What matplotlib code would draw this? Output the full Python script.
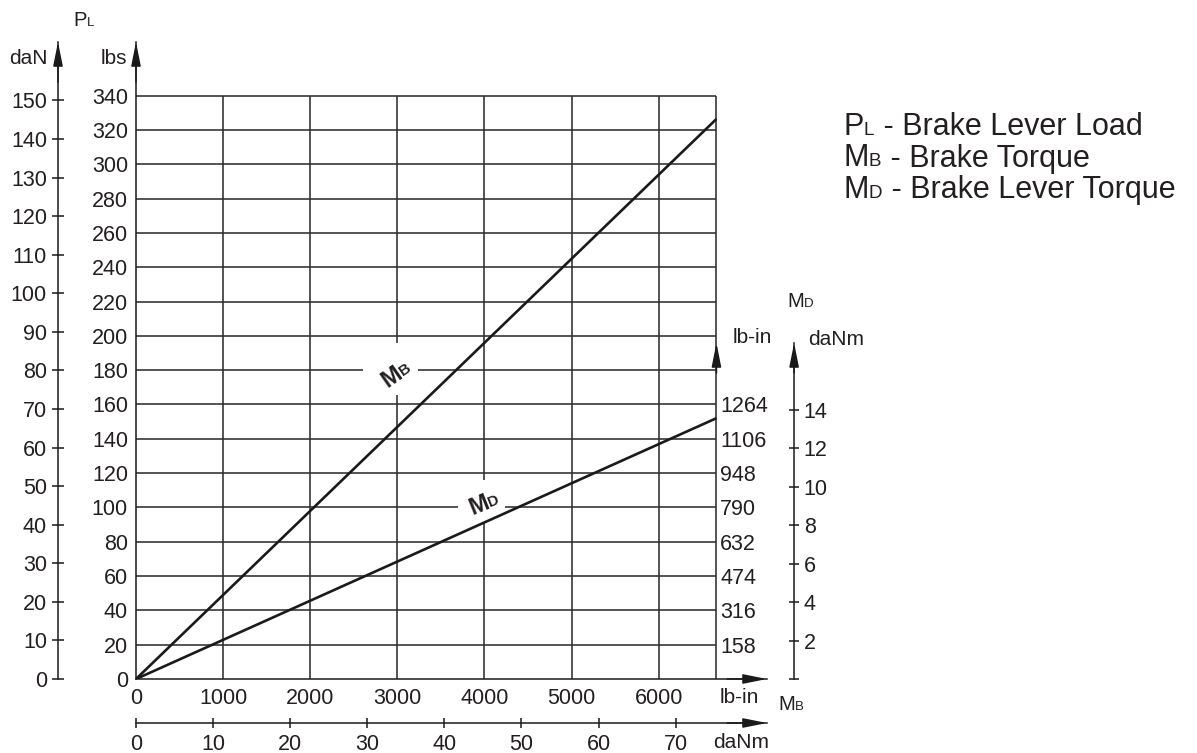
import numpy as np
import matplotlib
matplotlib.use("Agg")
import matplotlib.pyplot as plt
from matplotlib.patches import Rectangle

# ---------------- data ----------------
pl_lbs_ticks = [0, 20, 40, 60, 80, 100, 120, 140, 160, 180, 200, 220, 240, 260, 280, 300, 320, 340]
pl_dan_ticks = [0, 10, 20, 30, 40, 50, 60, 70, 80, 90, 100, 110, 120, 130, 140, 150]
mb_lbin_ticks = [0, 1000, 2000, 3000, 4000, 5000, 6000]
mb_danm_ticks = [0, 10, 20, 30, 40, 50, 60, 70]
md_lbin_ticks = [158, 316, 474, 632, 790, 948, 1106, 1264]
md_danm_ticks = [0, 2, 4, 6, 8, 10, 12, 14]

mb_danm = [0, 75.3]      # brake torque, daNm (chart right edge)
pl_dan = [0, 145.2]      # brake lever load along M_B line, daN
md_danm = [0, 13.57]     # brake lever torque along M_D line, daNm

legend_items = [("P", "L", " - Brake Lever Load"),
                ("M", "B", " - Brake Torque"),
                ("M", "D", " - Brake Lever Torque")]

# unit conversions
LBS_PER_DAN = 2.248
LBIN_PER_DANM = 88.5
LBIN_PER_LB_RIGHT = 7.9   # 158 lb-in per 20 lbs grid step

# ---------------- layout ----------------
W, H = 1197, 753
plt.rcParams['font.family'] = ['Liberation Sans', 'DejaVu Sans']
TXT = '#231f20'
GRID = '#2e2e2e'
LINE = '#1a1a1a'
TICK_FS = 15.5
UNIT_FS = 15
SUB_FS = 9.5

fig = plt.figure(figsize=(W / 100, H / 100), dpi=100)
fig.patch.set_facecolor('white')


def fx(px):
    return px / W


def fy(py):
    return 1 - py / H


X0, Y0 = 136, 679
X_TIP, Y_TIP = 767, 42
PX_PER_LBIN = 0.0871
PX_PER_LB = 1.7157
XMAX = (X_TIP - X0) / PX_PER_LBIN
YMAX = (Y0 - Y_TIP) / PX_PER_LB
X_RIGHT = mb_danm[-1] * LBIN_PER_DANM
GRID_TOP = pl_lbs_ticks[-1]
RIGHT_TIP_LBS = (Y0 - 343) / PX_PER_LB

arrow_kw = dict(arrowstyle='-|>,head_length=1.0,head_width=0.2', color=LINE,
                lw=1.1, shrinkA=0, shrinkB=0, mutation_scale=14.5, clip_on=False)

# main axes (lb-in vs lbs)
ax = fig.add_axes([fx(X0), fy(Y0), (X_TIP - X0) / W, (Y0 - Y_TIP) / H])
ax.set_xlim(0, XMAX)
ax.set_ylim(0, YMAX)
ax.patch.set_visible(False)
for s in ['top', 'right']:
    ax.spines[s].set_visible(False)
for s in ['left', 'bottom']:
    ax.spines[s].set_linewidth(1.1)
    ax.spines[s].set_color(LINE)
ax.set_yticks(pl_lbs_ticks, labels=[str(v) for v in pl_lbs_ticks])
ax.set_xticks(mb_lbin_ticks, labels=[str(v) for v in mb_lbin_ticks])
ax.tick_params(axis='y', length=0, labelsize=TICK_FS, labelcolor=TXT, pad=5.8)
ax.tick_params(axis='x', length=0, labelsize=TICK_FS, labelcolor=TXT, pad=6.2)

ax.hlines(pl_lbs_ticks[1:], 0, X_RIGHT, color=GRID, lw=1.15, zorder=1)
ax.vlines(mb_lbin_ticks[1:] + [X_RIGHT], 0, GRID_TOP, color=GRID, lw=1.15, zorder=1)

# curves
mb_x = np.array(mb_danm) * LBIN_PER_DANM
ax.plot(mb_x, np.array(pl_dan) * LBS_PER_DAN, color=LINE, lw=1.9, zorder=3,
        solid_capstyle='butt')
ax.plot(mb_x, np.array(md_danm) * LBIN_PER_DANM / LBIN_PER_LB_RIGHT, color=LINE,
        lw=1.9, zorder=3, solid_capstyle='butt')

# arrows on main axes
ax.annotate('', xy=(0, YMAX), xytext=(0, YMAX - 40 / PX_PER_LB), arrowprops=arrow_kw,
            annotation_clip=False)
ax.annotate('', xy=(XMAX, 0), xytext=(XMAX - 40 / PX_PER_LBIN, 0), arrowprops=arrow_kw,
            annotation_clip=False)
ax.annotate('', xy=(X_RIGHT, RIGHT_TIP_LBS), xytext=(X_RIGHT, RIGHT_TIP_LBS - 30 / PX_PER_LB),
            arrowprops=arrow_kw, annotation_clip=False)


# in-chart curve labels
def px2data(px, py):
    return (px - X0) / PX_PER_LBIN, (Y0 - py) / PX_PER_LB


def curve_label(box_c, box_wh, txt_c, big, small, angle, fs_big, fs_small):
    bx, by = px2data(*box_c)
    bw, bh = box_wh[0] / PX_PER_LBIN, box_wh[1] / PX_PER_LB
    ax.add_patch(Rectangle((bx - bw / 2, by - bh / 2), bw, bh, fc='white', ec='none', zorder=2))
    cx, cy = px2data(*txt_c)
    th = np.deg2rad(angle)
    c, s = np.cos(th), np.sin(th)
    w_big = 0.833 * fs_big
    w_small = 0.722 * fs_small
    w = w_big + w_small
    h = 0.716 * fs_big
    blx = -w / 2 * c + h / 2 * s
    bly = -w / 2 * s - h / 2 * c
    kw = dict(xycoords='data', textcoords='offset points', rotation=angle,
              rotation_mode='anchor', ha='left', va='baseline', color=TXT,
              fontweight='bold', zorder=4)
    ax.annotate(big, xy=(cx, cy), xytext=(blx, bly), fontsize=fs_big, **kw)
    ax.annotate(small, xy=(cx, cy), xytext=(blx + w_big * c, bly + w_big * s),
                fontsize=fs_small, **kw)


curve_label((390.5, 369), (55, 52), (395, 372), 'M', 'B', 35, 17, 11)
curve_label((481.5, 501), (47, 42), (483, 501), 'M', 'D', 22, 17, 11)

# daN axis
ax_dan = fig.add_axes([fx(58), fy(Y0), 1e-4, (Y0 - Y_TIP) / H])
ax_dan.set_ylim(0, YMAX / LBS_PER_DAN)
ax_dan.patch.set_visible(False)
for s in ['top', 'right', 'bottom']:
    ax_dan.spines[s].set_visible(False)
ax_dan.spines['left'].set_linewidth(1.1)
ax_dan.spines['left'].set_color(LINE)
ax_dan.set_xticks([])
ax_dan.set_yticks(pl_dan_ticks, labels=[str(v) for v in pl_dan_ticks])
ax_dan.tick_params(axis='y', direction='inout', length=8, width=1.1, color=LINE,
                   labelsize=TICK_FS, labelcolor=TXT, pad=4.0)
top_dan = YMAX / LBS_PER_DAN
ax_dan.annotate('', xy=(0, top_dan), xytext=(0, top_dan - 40 / PX_PER_LB / LBS_PER_DAN),
                xycoords=ax_dan.get_yaxis_transform(), arrowprops=arrow_kw,
                annotation_clip=False)

# bottom daNm axis
Y_DANM = 723
ax_danm = fig.add_axes([fx(X0), fy(Y_DANM), (X_TIP - X0) / W, 1e-4])
ax_danm.set_xlim(0, XMAX / LBIN_PER_DANM)
ax_danm.patch.set_visible(False)
for s in ['top', 'right', 'left']:
    ax_danm.spines[s].set_visible(False)
ax_danm.spines['bottom'].set_linewidth(1.1)
ax_danm.spines['bottom'].set_color(LINE)
ax_danm.set_yticks([])
ax_danm.set_xticks(mb_danm_ticks, labels=[str(v) for v in mb_danm_ticks])
ax_danm.tick_params(axis='x', direction='inout', length=7, width=1.1, color=LINE,
                    labelsize=TICK_FS, labelcolor=TXT, pad=4.2)
right_danm = XMAX / LBIN_PER_DANM
ax_danm.annotate('', xy=(right_danm, 0), xytext=(right_danm - 40 / PX_PER_LBIN / LBIN_PER_DANM, 0),
                 xycoords=ax_danm.get_xaxis_transform(), arrowprops=arrow_kw,
                 annotation_clip=False)

# right lb-in labels (M_D)
ax_rlb = fig.add_axes([fx(717), fy(Y0), 1e-4, (Y0 - Y_TIP) / H])
ax_rlb.set_ylim(0, YMAX * LBIN_PER_LB_RIGHT)
ax_rlb.patch.set_visible(False)
for s in ax_rlb.spines.values():
    s.set_visible(False)
ax_rlb.set_xticks([])
ax_rlb.yaxis.tick_right()
ax_rlb.set_yticks(md_lbin_ticks, labels=[str(v) for v in md_lbin_ticks])
ax_rlb.tick_params(axis='y', length=0, labelsize=TICK_FS, labelcolor=TXT, pad=2.2)

# right daNm axis (M_D)
ax_rd = fig.add_axes([fx(794), fy(Y0), 1e-4, (Y0 - Y_TIP) / H])
ax_rd.set_ylim(0, YMAX * LBIN_PER_LB_RIGHT / LBIN_PER_DANM)
ax_rd.patch.set_visible(False)
for s in ['top', 'left', 'bottom']:
    ax_rd.spines[s].set_visible(False)
rd_tip = RIGHT_TIP_LBS * LBIN_PER_LB_RIGHT / LBIN_PER_DANM
ax_rd.spines['right'].set_bounds(0, rd_tip)
ax_rd.spines['right'].set_linewidth(1.1)
ax_rd.spines['right'].set_color(LINE)
ax_rd.set_xticks([])
ax_rd.yaxis.tick_right()
ax_rd.set_yticks(md_danm_ticks, labels=['' if v == 0 else str(v) for v in md_danm_ticks])
ax_rd.tick_params(axis='y', direction='inout', length=7, width=1.1, color=LINE,
                  labelsize=TICK_FS, labelcolor=TXT, pad=3.5)
ax_rd.annotate('', xy=(1, rd_tip), xytext=(1, rd_tip - 30 / PX_PER_LB * LBIN_PER_LB_RIGHT / LBIN_PER_DANM),
               xycoords=ax_rd.get_yaxis_transform(), arrowprops=arrow_kw,
               annotation_clip=False)

# ---------------- texts ----------------
renderer = fig.canvas.get_renderer()


def caps(x_px, ybase_px, parts):
    x = x_px
    for txt, size in parts:
        t = fig.text(fx(x), fy(ybase_px), txt, fontsize=size, ha='left', va='baseline', color=TXT)
        bb = t.get_window_extent(renderer)
        x = bb.x1 + 0.5


def unit(x_px, ybase_px, txt, ha='left'):
    fig.text(fx(x_px), fy(ybase_px), txt, fontsize=UNIT_FS, ha=ha, va='baseline', color=TXT)


caps(73, 26, [('P', 14.5), ('L', SUB_FS)])
unit(48, 64, 'daN', ha='right')
unit(127, 64, 'lbs', ha='right')
unit(733, 343, 'lb-in')
unit(808, 345, 'daNm')
caps(787, 307, [('M', 14.5), ('D', SUB_FS)])
unit(720, 703, 'lb-in')
caps(778, 710, [('M', 14.5), ('B', SUB_FS)])
unit(713, 748, 'daNm')

for i, (big, small, rest) in enumerate(legend_items):
    caps(843, 135 + 31.5 * i, [(big, 22), (small, 13.5), (rest, 22)])

fig.savefig('out.png', dpi=100)
